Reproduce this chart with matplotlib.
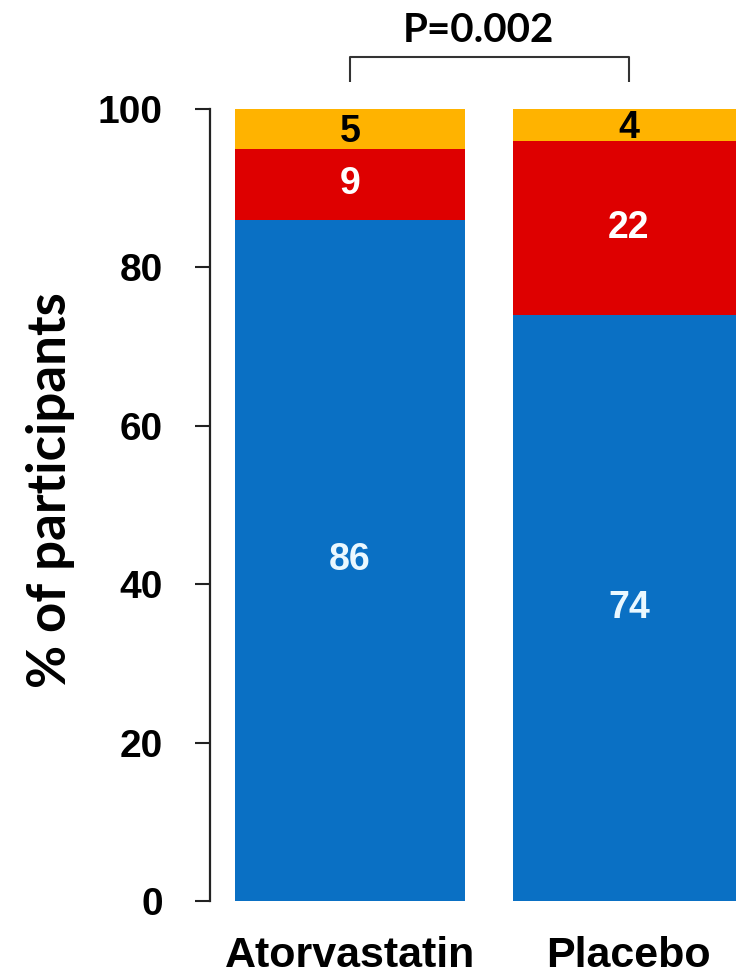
import matplotlib
matplotlib.use("Agg")
import matplotlib.pyplot as plt
import numpy as np

# Data
groups = ["Atorvastatin", "Placebo"]
seg_bottom = [86, 74]   # blue
seg_middle = [9, 22]    # red
seg_top = [5, 4]        # orange
yticks = [0, 20, 40, 60, 80, 100]
p_text = "P=0.002"

col_blue = "#0A70C4"
col_red = "#DE0000"
col_orange = "#FFB300"

fig = plt.figure(figsize=(7.36, 9.80), dpi=100)
ax = fig.add_axes([210/736, 79/980, 526/736, 792/980])

x = np.arange(len(groups))
w = 0.828
b1 = np.array(seg_bottom)
b2 = b1 + np.array(seg_middle)
ax.bar(x, seg_bottom, w, color=col_blue, edgecolor="none")
ax.bar(x, seg_middle, w, bottom=b1, color=col_red, edgecolor="none")
ax.bar(x, seg_top, w, bottom=b2, color=col_orange, edgecolor="none")

lab_font = dict(family=["Liberation Sans", "DejaVu Sans"], fontweight="bold", fontsize=27)
for i in range(len(groups)):
    ax.text(x[i], seg_bottom[i] / 2, str(seg_bottom[i]), ha="center", va="center",
            color="#EAF8FF", **lab_font)
    ax.text(x[i], b1[i] + seg_middle[i] / 2, str(seg_middle[i]), ha="center", va="center",
            color="white", **lab_font)
    ax.text(x[i], b2[i] + seg_top[i] / 2 - 0.4, str(seg_top[i]), ha="center", va="center",
            color="black", **lab_font)

ax.set_xlim(-0.502, 1.384)
ax.set_ylim(0, 100)

for s in ["top", "right", "bottom"]:
    ax.spines[s].set_visible(False)
ax.spines["left"].set_linewidth(1.6)
ax.spines["left"].set_color("#222222")

ax.set_yticks(yticks)
ax.set_yticklabels([str(t) for t in yticks])
ax.tick_params(axis="y", direction="out", length=11, width=1.5, color="#222222", pad=23)
for lab in ax.get_yticklabels():
    lab.set_fontfamily(["Liberation Sans", "DejaVu Sans"])
    lab.set_fontweight("bold")
    lab.set_fontsize(28)

ax.set_xticks(x)
ax.set_xticklabels(groups)
ax.tick_params(axis="x", length=0, pad=25)
for lab in ax.get_xticklabels():
    lab.set_fontfamily(["Liberation Sans", "DejaVu Sans"])
    lab.set_fontweight("bold")
    lab.set_fontsize(31)

ax.set_ylabel("% of participants", family=["Lato", "DejaVu Sans"], fontweight="bold", fontsize=38)
ax.yaxis.label.set_va("center")
ax.yaxis.set_label_coords(-0.304, 0.519)

# significance bracket
ax.plot([x[0], x[0], x[1], x[1]], [103.4, 106.6, 106.6, 103.4], color="#333333",
        lw=1.5, clip_on=False, solid_capstyle="butt")
ax.text(0.459, 109.9, p_text, ha="center", va="center", family=["Lato", "DejaVu Sans"],
        fontweight="bold", fontsize=29, color="black", clip_on=False)

fig.savefig("out.png", dpi=100)
